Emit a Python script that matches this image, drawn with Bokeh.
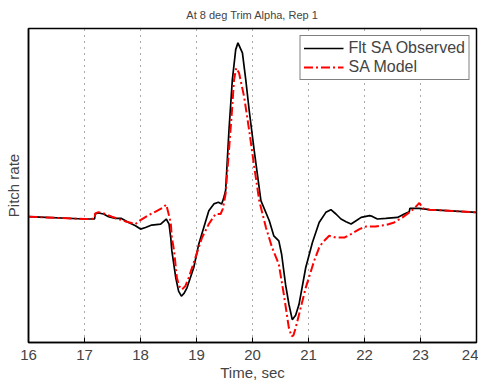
from bokeh.plotting import figure
from bokeh.models import Range1d, FixedTicker, Legend, LegendItem
from bokeh.embed import file_html
from bokeh.resources import INLINE

# Time, sec
t_obs = [16.00, 17.00, 17.18, 17.19, 17.25, 17.34, 17.43, 17.55, 17.66, 17.79, 17.91, 18.00,
         18.09, 18.20, 18.36, 18.46, 18.51, 18.54, 18.56, 18.63, 18.68, 18.73, 18.78, 18.83,
         18.95, 19.04, 19.13, 19.22, 19.31, 19.39, 19.45, 19.49, 19.52, 19.55, 19.58, 19.64,
         19.70, 19.74, 19.82, 19.88, 19.94, 20.03, 20.15, 20.30, 20.38, 20.47, 20.52, 20.59,
         20.65, 20.71, 20.77, 20.83, 20.95, 21.07, 21.19, 21.31, 21.40, 21.49, 21.58, 21.67,
         21.76, 21.85, 21.94, 22.09, 22.14, 22.23, 22.38, 22.59, 22.71, 22.80, 22.81, 22.98,
         23.16, 24.00]
q_obs = [0.0, -0.23, -0.23, 0.27, 0.37, 0.27, 0.0, -0.17, -0.17, -0.57, -0.9, -1.23,
         -1.07, -0.83, -0.73, -0.23, -0.73, -2.07, -3.4, -6.07, -7.4, -7.9, -7.6, -7.07,
         -5.07, -2.73, -1.07, 0.6, 1.27, 1.43, 1.27, 1.93, 2.6, 5.6, 8.6, 13.6,
         16.6, 17.27, 16.27, 13.6, 10.6, 6.6, 1.6, -0.4, -1.9, -2.4, -3.73, -6.73,
         -8.7, -10.23, -9.8, -8.73, -5.07, -2.57, -0.57, 0.43, 0.7, 0.27, -0.23, -0.5,
         -0.73, -0.4, -0.07, 0.1, 0.03, -0.23, -0.17, -0.07, 0.27, 0.5, 0.83, 0.83,
         0.7, 0.43]

t_mod = [16.00, 17.00, 17.18, 17.19, 17.25, 17.36, 17.49, 17.73, 17.91, 18.00, 18.15, 18.27,
         18.39, 18.46, 18.51, 18.54, 18.56, 18.60, 18.65, 18.69, 18.74, 18.80, 18.86, 18.98,
         19.10, 19.22, 19.34, 19.43, 19.47, 19.52, 19.58, 19.63, 19.67, 19.71, 19.76, 19.85,
         19.94, 20.03, 20.12, 20.24, 20.35, 20.47, 20.56, 20.65, 20.70, 20.73, 20.77, 20.95,
         21.10, 21.19, 21.25, 21.37, 21.49, 21.64, 21.76, 21.91, 22.03, 22.20, 22.38, 22.53,
         22.68, 22.80, 22.89, 22.98, 23.04, 23.16, 24.00]
q_mod = [0.0, -0.23, -0.2, 0.33, 0.45, 0.3, 0.0, -0.47, -0.73, -0.33, 0.17, 0.5,
         0.87, 1.2, 0.1, -0.6, -2.07, -3.4, -6.07, -6.9, -7.23, -6.9, -6.07, -4.07,
         -2.07, -0.73, 0.27, 0.27, 0.77, 2.27, 6.6, 10.27, 13.6, 14.77, 14.27, 11.93,
         8.6, 5.0, 1.6, -1.07, -3.07, -4.73, -7.73, -11.07, -11.9, -11.8, -11.07, -7.07,
         -4.4, -3.07, -2.57, -1.9, -2.07, -2.07, -1.73, -1.23, -0.97, -0.97, -0.83, -0.57,
         -0.07, 0.43, 0.83, 1.37, 0.83, 0.7, 0.43]

x_ticks = [16, 17, 18, 19, 20, 21, 22, 23, 24]
title_text = "At 8 deg Trim Alpha, Rep 1"
series_names = ["Flt SA Observed", "SA Model"]

FONT = "Liberation Sans"

p = figure(width=478, height=383, output_backend="svg", toolbar_location=None,
           x_range=Range1d(16, 24), y_range=Range1d(-12.5, 18.7),
           min_border_left=28, min_border_right=2, min_border_top=28, min_border_bottom=10)

p.title.text = title_text
p.title.align = "center"
p.title.vertical_align = "top"
p.title.text_font = FONT
p.title.text_font_size = "11px"
p.title.text_font_style = "normal"
p.title.offset = 0
p.title.standoff = 12

p.outline_line_color = "black"
p.outline_line_width = 1.5
p.outline_line_alpha = 1.0

l1 = p.line(t_obs, q_obs, line_color="black", line_width=1.7)
l2 = p.line(t_mod, q_mod, line_color="red", line_width=2, line_dash="9 3 2 3")

p.xaxis.ticker = FixedTicker(ticks=x_ticks)
p.xaxis.major_tick_in = 5
p.xaxis.major_tick_out = 0
p.xaxis.minor_tick_line_color = None
p.xaxis.axis_line_color = "black"
p.xaxis.axis_line_width = 1.5
p.xaxis.major_label_text_font = FONT
p.xaxis.major_label_text_font_size = "15px"
p.xaxis.major_label_standoff = 7
p.xaxis.axis_label = "Time, sec"
p.xaxis.axis_label_text_font = FONT
p.xaxis.axis_label_text_font_size = "15px"
p.xaxis.axis_label_text_font_style = "normal"
p.xaxis.axis_label_standoff = 1

p.yaxis.ticker = FixedTicker(ticks=[])
p.yaxis.minor_tick_line_color = None
p.yaxis.axis_line_color = "black"
p.yaxis.axis_line_width = 1.5
p.yaxis.axis_label = "Pitch rate"
p.yaxis.axis_label_text_font = FONT
p.yaxis.axis_label_text_font_size = "15px"
p.yaxis.axis_label_text_font_style = "normal"
p.yaxis.axis_label_standoff = 7

p.xgrid.grid_line_color = "#555555"
p.xgrid.grid_line_dash = "1 5"
p.xgrid.grid_line_width = 1
p.ygrid.grid_line_color = None

legend = Legend(items=[LegendItem(label=series_names[0], renderers=[l1]),
                       LegendItem(label=series_names[1], renderers=[l2])],
                location="top_right")
legend.label_text_font = FONT
legend.label_text_font_size = "16px"
legend.border_line_color = "black"
legend.border_line_width = 1
legend.background_fill_alpha = 1
legend.margin = 7
legend.padding = 3
legend.spacing = 1
legend.glyph_width = 40
legend.label_standoff = 5
legend.label_height = 18
legend.glyph_height = 18
p.add_layout(legend)

open("out.html", "w").write(file_html(p, INLINE))
